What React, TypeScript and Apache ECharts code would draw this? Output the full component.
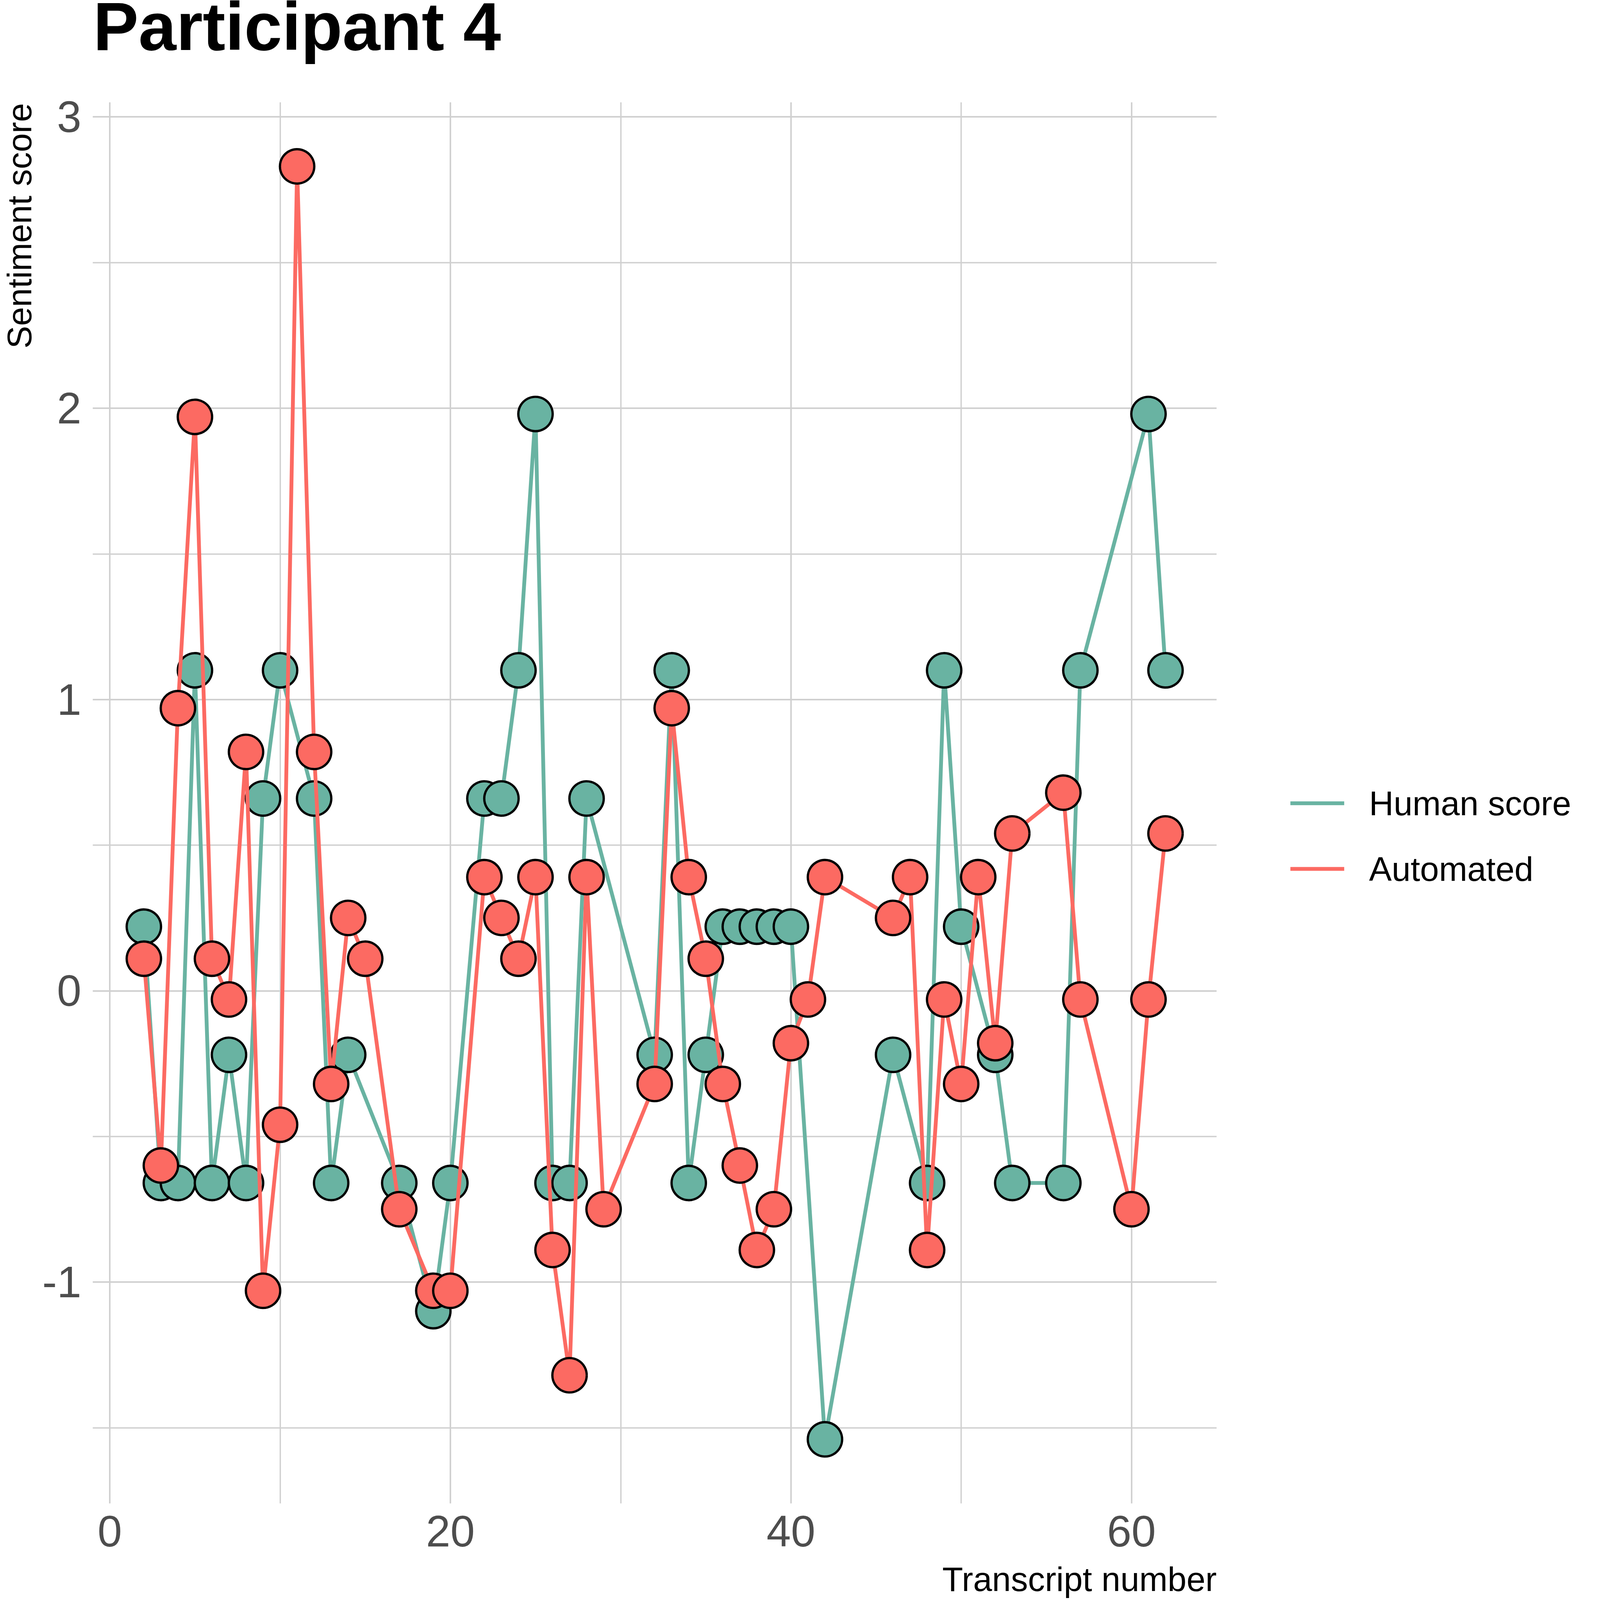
import React, { useEffect, useRef } from "react";
import * as echarts from "echarts";

const humanX = [2, 3, 4, 5, 6, 7, 8, 9, 10, 12, 13, 14, 17, 19, 20, 22, 23, 24, 25, 26, 27, 28, 32, 33, 34, 35, 36, 37, 38, 39, 40, 42, 46, 48, 49, 50, 52, 53, 56, 57, 61, 62];
const humanY = [0.22, -0.66, -0.66, 1.1, -0.66, -0.22, -0.66, 0.66, 1.1, 0.66, -0.66, -0.22, -0.66, -1.1, -0.66, 0.66, 0.66, 1.1, 1.98, -0.66, -0.66, 0.66, -0.22, 1.1, -0.66, -0.22, 0.22, 0.22, 0.22, 0.22, 0.22, -1.54, -0.22, -0.66, 1.1, 0.22, -0.22, -0.66, -0.66, 1.1, 1.98, 1.1];

const autoX = [2, 3, 4, 5, 6, 7, 8, 9, 10, 11, 12, 13, 14, 15, 17, 19, 20, 22, 23, 24, 25, 26, 27, 28, 29, 32, 33, 34, 35, 36, 37, 38, 39, 40, 41, 42, 46, 47, 48, 49, 50, 51, 52, 53, 56, 57, 60, 61, 62];
const autoY = [0.11, -0.6, 0.97, 1.97, 0.11, -0.03, 0.82, -1.03, -0.46, 2.83, 0.82, -0.32, 0.25, 0.11, -0.75, -1.03, -1.03, 0.39, 0.25, 0.11, 0.39, -0.89, -1.32, 0.39, -0.75, -0.32, 0.97, 0.39, 0.11, -0.32, -0.6, -0.89, -0.75, -0.18, -0.03, 0.39, 0.25, 0.39, -0.89, -0.03, -0.32, 0.39, -0.18, 0.54, 0.68, -0.03, -0.75, -0.03, 0.54];

const seriesNames = ["Human score", "Automated"];
const titleText = "Participant 4";
const xTitle = "Transcript number";
const yTitle = "Sentiment score";

const GREEN = "#69B3A2";
const RED = "#FC6A62";
const GRID = "#D0D0D0";
const FONT = "'Liberation Sans', Arial, Helvetica, sans-serif";

const BASE_W = 4134;
const BASE_H = 4191;

function getScale() {
  const w = window.innerWidth || BASE_W;
  const h = window.innerHeight || BASE_H;
  return Math.min(w / BASE_W, h / BASE_H, 1);
}

export default function App() {
  const ref = useRef<HTMLDivElement>(null);
  const s = getScale();
  const W = Math.floor(BASE_W * s);
  const H = Math.floor(BASE_H * s);
  useEffect(() => {
    if (!ref.current) return;
    const p = (v: number) => v * s;
    const chart = echarts.init(ref.current, null, { renderer: "svg", width: W, height: H });
    const gridLeft = 243, gridRight = 3187, gridTop = 268, gridBottom = 3938;
    const option: any = {
      animation: false,
      backgroundColor: "#FFFFFF",
      title: {
        text: titleText,
        left: p(244),
        top: p(2),
        padding: 0,
        textStyle: { fontSize: p(178), lineHeight: p(136), fontWeight: "bold", color: "#000000", fontFamily: FONT },
      },
      grid: {
        left: p(gridLeft),
        right: p(BASE_W - gridRight),
        top: p(gridTop),
        bottom: p(BASE_H - gridBottom),
        containLabel: false,
      },
      legend: {
        orient: "vertical",
        left: p(3380),
        top: p(2054),
        itemWidth: p(141),
        itemHeight: p(10),
        itemGap: p(72),
        icon: "rect",
        padding: 0,
        itemStyle: { borderWidth: 0 },
        textStyle: { fontSize: p(89), lineHeight: p(100), color: "#000000", fontFamily: FONT, padding: [0, 0, 0, p(60)] },
        data: [
          { name: seriesNames[0], itemStyle: { color: GREEN, borderWidth: 0 } },
          { name: seriesNames[1], itemStyle: { color: RED, borderWidth: 0 } },
        ],
      },
      xAxis: {
        type: "value",
        min: -1,
        max: 65,
        minInterval: 20,
        maxInterval: 20,
        axisLine: { show: false },
        axisTick: { show: false },
        axisLabel: {
          fontSize: p(115),
          color: "#4D4D4D",
          fontFamily: FONT,
          margin: p(16),
          showMinLabel: false,
          showMaxLabel: false,
        },
        splitLine: { show: true, showMinLine: false, showMaxLine: false, lineStyle: { color: GRID, width: p(4) } },
        minorTick: { show: false, splitNumber: 2 },
        minorSplitLine: { show: true, lineStyle: { color: GRID, width: p(3.5) } },
      },
      yAxis: {
        type: "value",
        min: -1.76,
        max: 3.05,
        minInterval: 1,
        maxInterval: 1,
        axisLine: { show: false },
        axisTick: { show: false },
        axisLabel: {
          fontSize: p(115),
          color: "#4D4D4D",
          fontFamily: FONT,
          margin: p(30),
          showMinLabel: false,
          showMaxLabel: false,
        },
        splitLine: { show: true, showMinLine: false, showMaxLine: false, lineStyle: { color: GRID, width: p(4) } },
        minorTick: { show: false, splitNumber: 2 },
        minorSplitLine: { show: true, lineStyle: { color: GRID, width: p(3.5) } },
      },
      graphic: [
        {
          type: "text",
          x: p(51),
          y: p(gridTop + 2),
          rotation: Math.PI / 2,
          style: { text: yTitle, fontSize: p(89), lineHeight: p(80), fontFamily: FONT, fill: "#000000", align: "right", verticalAlign: "middle" },
        },
        {
          type: "text",
          x: p(gridRight),
          y: p(4136),
          style: { text: xTitle, fontSize: p(89), lineHeight: p(80), fontFamily: FONT, fill: "#000000", align: "right", verticalAlign: "middle" },
        },
      ],
      series: [
        {
          type: "line",
          name: seriesNames[0],
          data: humanX.map((x, i) => [x, humanY[i]]),
          symbol: "circle",
          symbolSize: p(90),
          showAllSymbol: true,
          lineStyle: { color: GREEN, width: p(10) },
          itemStyle: { color: GREEN, borderColor: "#000000", borderWidth: p(6) },
          z: 2,
        },
        {
          type: "line",
          name: seriesNames[1],
          data: autoX.map((x, i) => [x, autoY[i]]),
          symbol: "circle",
          symbolSize: p(90),
          showAllSymbol: true,
          lineStyle: { color: RED, width: p(10) },
          itemStyle: { color: RED, borderColor: "#000000", borderWidth: p(6) },
          z: 3,
        },
      ],
    };
    chart.setOption(option);
    return () => chart.dispose();
  }, []);
  return (
    <div
      ref={ref}
      style={{ position: "fixed", left: 0, top: 0, width: W, height: H, background: "#FFFFFF" }}
    />
  );
}
